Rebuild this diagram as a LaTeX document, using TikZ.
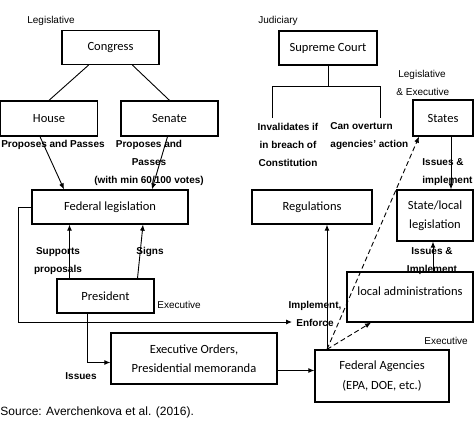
\documentclass[tikz,border=0pt]{standalone}
\usepackage{fontspec}
\setmainfont{Liberation Sans}
\newfontfamily\boxfont{Carlito}
\usetikzlibrary{arrows,arrows.meta,shapes}

\begin{document}
\begin{tikzpicture}[x=1pt, y=-1pt, >={Latex[length=6pt,width=5pt]}, line width=0.9pt,
        org/.style={rectangle, draw, line width=1.3pt, align=center, inner sep=0pt, font=\boxfont\fontsize{12.5}{19.5}\selectfont},
        act/.style={align=center, inner sep=0pt, font=\bfseries\fontsize{10}{18}\selectfont},
        branch/.style={inner sep=0pt, align=center, font=\fontsize{10}{18}\selectfont}]
            \useasboundingbox (0,0) rectangle (474,421);
            % legislative side
            \node (congress) [org, minimum width=97pt, minimum height=34pt] at (110.5,47.5) {Congress};
            \node (house) [org, minimum width=97pt, minimum height=35pt] at (49,118.5) {House};
            \node (senate) [org, minimum width=97pt, minimum height=35pt] at (169.5,118.5) {Senate};
            \node (fedleg) [org, minimum width=156pt, minimum height=34pt] at (110,207) {Federal legislation};
            \node (president) [org, minimum width=97pt, minimum height=34pt] at (105.5,296) {President};
            \node (orders) [org, minimum width=166pt, minimum height=51pt] at (194,358.5) {Executive Orders,\\Presidential memoranda};
            % judiciary and agencies
            \node (court) [org, minimum width=98pt, minimum height=34pt] at (328,48) {Supreme Court};
            \node (regulations) [org, minimum width=120pt, minimum height=34pt] at (312,207) {Regulations};
            \node (agencies) [org, minimum width=134pt, minimum height=52pt] at (382,376) {Federal Agencies\\(EPA, DOE, etc.)};
            \node (localadm) [org, minimum width=126pt, minimum height=50pt, text depth=11pt] at (410,297) {local administrations};
            \node (states) [org, minimum width=60pt, minimum height=36pt] at (443,118) {States};
            \node (statelaw) [org, minimum width=76pt, minimum height=51pt] at (435,215.5) {State/local\\legislation};

            % branch names
            \node (legtag) [branch] at (51,21) {Legislative};
            \node (judtag) [branch] at (278,21) {Judiciary};
            \node (statetag) [branch] at (422,83) {Legislative\\\,\& Executive};
            \node (prestag) [branch, anchor=west] at (157,305) {Executive};
            \node (agtag) [branch, anchor=west] at (424,341) {Executive};
            \node (source) [branch, anchor=west, font=\fontsize{12}{14}\selectfont] at (0,412) {Source: Averchenkova et al. (2016).};

            % actions
            \node (housepass) [act] at (53,145) {Proposes and Passes};
            \node (senatepass) [act] at (149,163) {Proposes and\\Passes\\(with min 60/100 votes)};
            \node (supports) [act] at (58,261) {Supports\\proposals};
            \node (signs) [act] at (150,252) {Signs};
            \node (issues) [act] at (81,376) {Issues};
            \node (enforcelbl) [act] at (315,314) {Implement,\\Enforce};
            \node (invalid) [act] at (288,145) {Invalidates if\\in breach of\\Constitution};
            \node (overturn) [act, align=left, anchor=west] at (330,136) {Can overturn\\agencies’ action};
            \node (stateissue) [act, align=left, anchor=west] at (422,172) {Issues \&\\implement};
            \node (localissue) [act] at (432,261) {Issues \&\\Implement};

            \coordinate (enforce) at (292,322);
            \coordinate (invalidend) at (272,118);
            \coordinate (overturnend) at (380,118);

            \draw ([xshift=-22pt]congress.south) -- (house.north);
            \draw ([xshift=22pt]congress.south) -- (senate.north);
            \draw[->] ([xshift=-9pt]house.south) -- ([xshift=-46pt]fedleg.north);
            \draw[->] ([xshift=-2pt]senate.south) -- ([xshift=42pt]fedleg.north);
            \draw[->] ([xshift=-36pt]president.north) -- ([xshift=-36pt]president.north |- fedleg.south);
            \draw[->] ([xshift=32pt]president.north) -- ([xshift=33pt]fedleg.south);
            \draw[->] (fedleg.west) -- ++(-13,0) |- (enforce);
            \draw[->] ([xshift=-18pt]president.south) |- ([yshift=-4pt]orders.west);
            \draw[->] ([yshift=-12pt]orders.east) -- ([yshift=-12pt]orders.east -| agencies.west);
            \draw[->] ([xshift=-55pt]agencies.north) -- ([xshift=-55pt]agencies.north |- regulations.south);
            \draw[->, dash pattern=on 5pt off 3pt] ([xshift=-55pt]agencies.north) -- ([xshift=-39pt]localadm.south);
            \draw[->, dash pattern=on 5pt off 3pt] ([xshift=-55pt]agencies.north) -- ([xshift=-24pt]states.south);
            \draw[->] ([xshift=8pt]states.south) -- ([xshift=8pt]states.south |- statelaw.north);
            \draw[->] ([xshift=23pt]localadm.north) -- ([xshift=23pt]localadm.north |- statelaw.south);
            \draw (court.south) -- ++(0,21) coordinate (fork);
            \draw (invalidend) |- (fork) -| (overturnend);
\end{tikzpicture}
\end{document}
